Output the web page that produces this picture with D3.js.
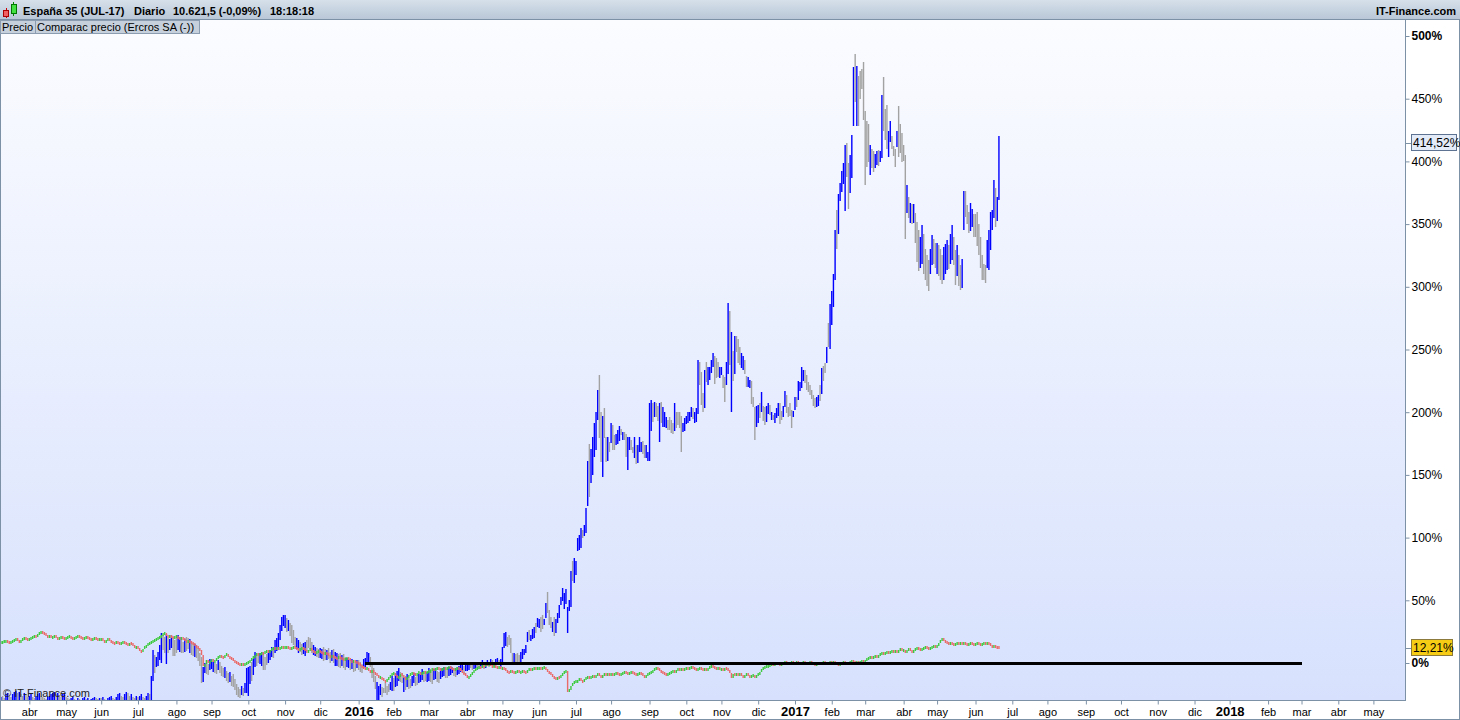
<!DOCTYPE html>
<html><head><meta charset="utf-8">
<script src="https://cdnjs.cloudflare.com/ajax/libs/d3/7.8.5/d3.min.js"></script>
<style>html,body{margin:0;padding:0;background:#fff;overflow:hidden}svg{display:block;font-family:"Liberation Sans",Arial,sans-serif}</style>
</head><body><svg id="c" width="1460" height="720"></svg>
<script>
// ---------- data ----------
const monthNames = ["ene","feb","mar","abr","may","jun","jul","ago","sep","oct","nov","dic"];
const yTicks = [0,50,100,150,200,250,300,350,400,450,500];
const headerParts = ["España 35 (JUL-17)", "Diario", "10.621,5 (-0,09%)", "18:18:18"];
const tabLabels = ["Precio", "Comparac precio (Ercros SA (-))"];
const lastValues = [414.52, 12.21]; // Ercros, España 35
const zeroLineDates = ["2016-01-07", "2018-03-01"];

// Ercros SA, daily bars "high/low" in % + b(up,blue)/g(down,grey); one string per month
const ercros2015 = [ // Mar .. Dec
"-27/-33b -26/-32g -28/-34g -25/-32b -24/-31b -26/-33g -27/-34g -25/-32b -23/-30b -22/-30b -24/-31g -23/-31b -25/-32g -26/-33g -24/-32b -25/-33g -27/-34g",
"-26/-33b -25/-32b -27/-34g -28/-34g -26/-33b -25/-32b -24/-31b -26/-33g -27/-33g -28/-34g -29/-35g -27/-34b -26/-33b -25/-32b -24/-31b -23/-30b -25/-32g -24/-31b -26/-33g -27/-34g -25/-32b -24/-31b",
"-27/-34g -28/-35g -29/-35g -28/-34b -27/-33b -29/-35g -30/-36g -28/-34b -29/-35g -30/-36g -28/-34b -27/-33b -29/-35g -28/-34b -30/-36g -29/-35b -28/-34b -27/-33b -28/-34g -29/-35g -28/-34b",
"-28/-34g -27/-33b -29/-35g -30/-36g -28/-34b -27/-33b -26/-32b -28/-34g -29/-35g -27/-33b -25/-31b -24/-31b -26/-32g -27/-33g -25/-32b -23/-30b -24/-31g -26/-32g -25/-31b -27/-33g -28/-34g -26/-32b",
"-27/-33g -26/-32b -25/-31b -27/-33g -28/-34g -26/-32b -24/-31b -25/-32g -10/-31b 10/-15b 6/-8g 5/-3b 9/-2b 14/2b 24/0b 22/10g 21/8g 23/-1b 20/8g 19/10b 22/12b 21/6g 18/5g",
"20/8g 22/10b 21/9b 18/8g 17/8g 19/9b 21/10g 20/11g 19/8b 17/7g 16/6g 15/5b 14/4g 12/2g 8/-2g 5/-16g -3/-15b 0/-8b 2/-9g -1/-10g 3/-6b",
"3/-5b 1/-7b 0/-8g -1/-9g 2/-6b 1/-8g -2/-10g -4/-11g -3/-12b -6/-14g -8/-16g -7/-15b -10/-18g -9/-19g -13/-22g -17/-26g -19/-27g -21/-28g -18/-25b -20/-26g -16/-24b -4/-24b",
"-3/-26b -2/-16b 1/-14g 3/-10b 9/-3b 8/-2g 7/0g 8/-1b 9/-2b 6/-6g 5/-5g 7/-2g 8/0b 10/2b 13/5b 12/4g 18/8b 20/10b 24/12b 30/18b 37/26b 38/29b",
"38/28b 36/25g 34/25b 32/22g 30/16g 26/14g 21/13g 20/11b 18/8b 17/9g 15/6g 16/7b 17/6b 18/9g 21/12g 20/11g 17/8g 14/6b 13/6b 12/5g 11/4g",
"12/4b 11/3b 13/2g 11/2g 10/2b 12/3g 9/0g 10/1b 11/0g 9/-2b 8/-2b 7/-3g 8/-4g 6/-3b 7/-4g 5/-5g 4/-3b 3/-4b 2/-6g 3/-5b 1/-7g 0/-6g 2/-4b"
];
const ercros2016 = [ // Jan .. Dec
"2/-6g 1/-7g -1/-8g 3/-4b 4/-3b 9/0b 8/-1b 5/-3g 0/-12g -4/-15g -10/-20g -15/-30b -18/-29b -17/-26b -19/-27g -20/-24g -16/-24g -18/-25g -17/-23g -15/-21b -10/-22b",
"-12/-22g -8/-19b -6/-18b -4/-14b -7/-15g -8/-16g -11/-23b -10/-21g -9/-19b -12/-21g -13/-20g -10/-18b -8/-16b -11/-18g -10/-17g -9/-16b -7/-15b -5/-14b -6/-15g -8/-14g -7/-15b",
"-4/-14b -5/-15g -6/-16g -5/-14b -4/-13b -6/-15g -7/-16g -5/-13b -4/-11b -3/-10b -4/-12g -5/-12g -3/-10b -2/-9b -3/-8b -4/-10g -5/-11g -3/-9b -2/-8b 0/-7b -1/-6b -2/-8g 0/-6b",
"0/-6b 1/-5b 0/-4g -1/-6g 0/-5b 1/-4b -1/-6g 0/-5g 1/-4b 2/-3b 0/-5g 1/-4b 2/-3b 1/-3g 3/-2b 2/-3g 1/-3g 3/-1b 4/0b 2/-2g 3/-3b",
"13/0b 24/12b 25/14b 21/13g 22/14g 20/8g 8/1g 8/0b 7/0g 8/1g 6/-1g 9/0b 11/3b 11/6b 14/8b 25/17b 26/18g 22/17b 27/19b 29/20b 32/24g 36/29b",
"35/28b 37/25g 38/27g 35/30b 48/36b 57/40g 42/30g 37/28g 33/25b 37/22g 35/24b 40/32b 46/36b 53/47b 60/50b 56/43b 59/47b 45/24b 50/41b 73/44b 81/65g 84/64b",
"81/70b 100/90b 102/90b 108/92b 106/100g 110/101b 124/104b 161/125b 175/133g 171/144b 180/150b 191/164b 200/170b 218/194b 230/180g 200/160g 197/148b 203/179g 180/160g 180/161b 176/168g",
"191/175b 190/170g 182/170g 183/174b 186/175b 189/177b 187/182g 184/178b 184/178g 183/165g 180/154b 180/170b 178/170g 172/167g 180/163b 174/159g 174/160b 180/168b 176/168b 177/167g 174/164g 174/164b 168/161b",
"207/161b 210/185b 207/192g 208/196b 207/196g 205/193g 207/176b 208/191g 204/188b 200/188b 196/187b 194/186g 196/186g 194/184g 191/182g 207/185b 200/187g 200/190g 200/187g 197/168g 191/184b 195/185b",
"197/191b 200/191b 200/193b 204/196b 203/194g 200/191b 203/192b 242/199b 240/222g 232/206g 215/200g 234/204b 240/224g 236/222b 236/226b 242/232b 247/236b 245/223g 243/227g 240/228g 236/227b",
"236/230b 230/220g 228/208g 240/222b 287/230b 281/238g 264/200b 249/225g 261/231b 261/248g 258/239g 252/238g 247/235b 245/234b 242/231g 229/220g 228/220b 226/220b 225/207g 212/204g 204/178g 205/188b",
"206/192b 207/195g 216/200b 205/193g 204/190g 205/192b 207/198b 206/198g 200/194b 198/194g 199/191b 203/195b 207/197b 207/190g 201/194g 205/196b 217/204b 214/200g 204/196g 207/197g 202/188g 201/196b"
];
const ercros2017 = [ // Jan .. Jun
"212/202b 212/204g 225/210b 224/217b 236/219b 234/225b 234/224g 230/218g 224/216g 222/214g 218/211g 214/205g 211/203g 212/204b 214/205b 222/209g 235/214b 237/225g 239/231g 252/239b 271/252g 286/250b",
"297/270b 310/284b 345/305b 361/330g 374/342b 383/369b 392/375b 399/382b 413/360b 415/388g 399/362g 405/375b 421/387b 475/428b 486/448g 476/428b 468/428g 472/450g 474/458g 479/433g",
"440/381g 432/395g 430/400g 413/389b 410/395g 408/391g 406/395b 408/397b 409/396g 408/399b 453/403b 467/424g 442/417g 445/410g 424/403b 432/415b 420/410g 412/404g 410/396g 424/411b 444/403g 430/407g 423/400g",
"413/400g 405/338g 381/359b 372/355g 367/351b 366/350g 366/351b 359/335g 352/320g 345/312g 340/315b 349/318b 342/310g 330/305g 325/300g 321/296g 330/310b 341/317b 338/318g 335/315g",
"335/310b 333/308g 330/305g 325/302g 332/306b 334/310b 337/313b 333/314g 342/318b 349/321b 340/318g 329/301g 333/308b 325/300g 317/297g 322/299b 376/345b 376/355g 365/350g 360/343g 367/345b 362/348b 358/340g",
"358/340g 360/333g 350/325g 340/315g 325/305g 318/305g 317/303g 337/315b 345/313b 360/330b 361/345b 385/355b 379/348g 372/353b 420/369b"
];

// España 35 comparison, daily close in %; one array per month
const ibex2015 = [ // Mar .. Dec
[16,17,17,18,17,16,17,18,18,19,18,17,18,19,20,19,18],
[19,20,21,22,21,23,24,25,24,23,22,21,22,20,21,22,20,19,20,21,20,19],
[20,21,21,20,19,20,21,22,21,20,19,20,21,20,19,18,19,20,19,18,19],
[19,18,17,18,19,18,17,16,15,17,16,15,16,17,16,15,14,16,15,14,12,13],
[12,10,9,11,13,14,15,16,17,18,18,19,20,21,22,23,24,22,21,22,21,20,21],
[21,20,19,20,19,18,17,18,17,16,15,14,13,12,10,6,-3,-1,2,0,1],
[3,1,2,4,5,6,5,4,6,7,5,4,3,2,1,0,-1,-2,-1,-2,-1,0],
[1,2,4,5,6,7,6,7,8,7,9,10,9,10,11,12,11,12,11,12,13,12],
[12,13,12,11,12,13,12,11,10,11,12,11,10,9,10,11,10,9,8,9,10],
[9,8,7,8,7,6,5,6,5,4,3,5,4,3,2,3,4,3,2,1,2,1,0]
];
const ibex2016 = [
[-1,-2,-3,-4,-5,-4,-6,-7,-6,-8,-9,-10,-12,-11,-13,-14,-15,-13,-12,-10,-9],
[-8,-10,-12,-11,-9,-10,-12,-13,-11,-10,-9,-8,-9,-10,-8,-7,-9,-8,-7,-8,-7],
[-7,-6,-5,-6,-5,-4,-5,-6,-5,-4,-5,-4,-3,-4,-5,-6,-5,-4,-5,-6,-8,-9,-10],
[-12,-11,-9,-8,-6,-5,-4,-3,-4,-2,-3,-1,-2,-1,-2,-3,-2,-3,-4,-3,-4],
[-4,-5,-6,-7,-8,-6,-7,-8,-7,-6,-8,-7,-6,-7,-8,-6,-5,-6,-5,-4,-5,-4],
[-4,-5,-4,-3,-5,-7,-8,-9,-11,-12,-13,-11,-12,-10,-8,-7,-6,-23,-21,-18,-16,-15],
[-15,-14,-13,-14,-15,-13,-12,-11,-12,-11,-10,-11,-10,-9,-10,-11,-10,-9,-10,-9,-10],
[-9,-10,-9,-8,-9,-10,-9,-8,-7,-8,-9,-8,-7,-8,-9,-10,-9,-8,-9,-10,-11,-10,-9],
[-8,-7,-6,-5,-4,-5,-6,-7,-8,-9,-10,-9,-8,-7,-6,-7,-6,-5,-6,-5,-6,-5],
[-4,-5,-4,-3,-4,-5,-6,-5,-4,-5,-6,-5,-6,-4,-3,-2,-3,-4,-5,-4,-5],
[-5,-6,-4,-5,-6,-8,-12,-9,-10,-9,-10,-9,-10,-11,-10,-9,-10,-11,-10,-10,-11,-10],
[-9,-7,-5,-4,-3,-3,-2,-2,-1,-2,-1,0,-1,-2,-1,0,1,0,-1,0,1,0]
];
const ibex2017 = [
[0,1,0,-1,0,1,0,-1,0,1,0,-1,-2,-1,0,-1,0,1,0,-1,0,1],
[0,1,0,-1,-2,-1,0,1,0,-1,0,1,2,1,0,1,0,1,2,1],
[2,3,4,5,4,5,6,5,6,7,8,7,8,9,8,9,10,9,10,9,10,11,10],
[10,9,10,11,10,9,10,11,12,11,10,11,12,13,12,11,12,13,14,13],
[14,16,18,19,18,17,16,15,16,15,14,15,16,15,16,15,16,15,14,15,16,15,14],
[15,16,15,14,15,16,15,16,15,14,13,14,13,12.5,12.21]
];

// ---------- calendar (trading-day axis) ----------
const days = [];
for (let t = Date.UTC(2015,2,9); t <= Date.UTC(2018,5,29); t += 864e5) {
  const d = new Date(t), wd = d.getUTCDay();
  if (wd > 0 && wd < 6) days.push(d);
}
const firstIdx = new Map();
days.forEach((d,i) => { const k = d.getUTCFullYear()*100 + d.getUTCMonth(); if (!firstIdx.has(k)) firstIdx.set(k, i); });
const dateIdx = s => { const [Y,M,D] = s.split("-").map(Number); const t = Date.UTC(Y,M-1,D); return days.findIndex(d => d.getTime() >= t); };

const ercros = [], ibex = [];
[[2015,2,ercros2015],[2016,0,ercros2016],[2017,0,ercros2017]].forEach(([Y,m0,arr]) => {
  arr.forEach((s,mi) => {
    const base = firstIdx.get(Y*100 + m0 + mi);
    s.trim().split(/\s+/).forEach((tok,k) => {
      const m = tok.match(/^(-?[\d.]+)\/(-?[\d.]+)([bg])$/);
      ercros.push({i: base + k, hi: +m[1], lo: +m[2], up: m[3] === "b"});
    });
  });
});
[[2015,2,ibex2015],[2016,0,ibex2016],[2017,0,ibex2017]].forEach(([Y,m0,arr]) => {
  arr.forEach((a,mi) => {
    const base = firstIdx.get(Y*100 + m0 + mi);
    a.forEach((v,k) => ibex.push({i: base + k, c: v}));
  });
});
ibex.forEach((d,j) => { d.o = j ? ibex[j-1].c : d.c; });

// ---------- scales ----------
const plotL = 0, plotR = 1405, plotT = 20, plotB = 700;
const x = d3.scaleLinear().domain([-0.54, 839.9]).range([plotL, plotR]);
const y = d3.scaleLinear().domain([0, 500]).range([663, 36]);

const svg = d3.select("#c");
const defs = svg.append("defs");
const bg = defs.append("linearGradient").attr("id","bg").attr("x1",0).attr("y1",0).attr("x2",0).attr("y2",1);
bg.append("stop").attr("offset","0").attr("stop-color","#fbfcff");
bg.append("stop").attr("offset","1").attr("stop-color","#d7e1fd");
const hg = defs.append("linearGradient").attr("id","hg").attr("x1",0).attr("y1",0).attr("x2",0).attr("y2",1);
hg.append("stop").attr("offset","0").attr("stop-color","#d6e0ea");
hg.append("stop").attr("offset","1").attr("stop-color","#b7c6d6");
defs.append("clipPath").attr("id","clip").append("rect").attr("x",plotL+1).attr("y",plotT).attr("width",plotR-plotL-1).attr("height",plotB-plotT);

svg.append("rect").attr("width",1460).attr("height",720).attr("fill","#fff");
svg.append("rect").attr("x",plotL).attr("y",plotT).attr("width",plotR-plotL).attr("height",plotB-plotT).attr("fill","url(#bg)");

const plot = svg.append("g").attr("clip-path","url(#clip)");

// Ercros bars
plot.append("g").selectAll("rect").data(ercros).join("rect")
  .attr("x", d => x(d.i) - 0.7)
  .attr("width", 1.4)
  .attr("y", d => Math.round(y(d.hi)))
  .attr("height", d => Math.max(2, Math.round(y(d.lo) - y(d.hi))))
  .attr("fill", d => d.up ? "#0000ff" : "#a2a2a2");

// España 35 candles
plot.append("g").selectAll("rect").data(ibex).join("rect")
  .attr("x", d => x(d.i) - 0.7)
  .attr("width", 1.4)
  .attr("y", d => { const t = y(Math.max(d.o,d.c)), b = y(Math.min(d.o,d.c)); return Math.round(Math.min(t, (t+b)/2 - 1.5)); })
  .attr("height", d => Math.max(3, Math.round(Math.abs(y(d.o) - y(d.c)))))
  .attr("fill", d => d.c >= d.o ? "#3fcb3f" : "#ea6a6a");

// zero line
plot.append("line").attr("shape-rendering","crispEdges")
  .attr("x1", x(dateIdx(zeroLineDates[0]))).attr("x2", x(dateIdx(zeroLineDates[1])))
  .attr("y1", y(0)).attr("y2", y(0)).attr("stroke","#000").attr("stroke-width",3);

// watermark
svg.append("text").attr("x",3).attr("y",697).attr("font-size",11).attr("fill","#222").text("© IT-Finance.com");

// frame lines
const frame = svg.append("g").attr("shape-rendering","crispEdges").attr("stroke","#7d91a6").attr("fill","none");
frame.append("line").attr("x1",plotR+0.5).attr("x2",plotR+0.5).attr("y1",plotT).attr("y2",plotB+0.5);
frame.append("line").attr("x1",0).attr("x2",plotR+0.5).attr("y1",plotB+0.5).attr("y2",plotB+0.5);
frame.append("rect").attr("x",0.5).attr("y",0.5).attr("width",1459).attr("height",719);

// right axis
const yAx = svg.append("g").attr("transform",`translate(${plotR+0.5},0)`)
  .call(d3.axisRight(y).tickValues(yTicks).tickSize(4).tickPadding(2).tickFormat(v => v + "%"));
yAx.select(".domain").remove();
yAx.selectAll("line").attr("stroke","#7d91a6");
yAx.selectAll("text").attr("font-size",12).attr("fill","#000").attr("font-family","Liberation Sans, Arial, sans-serif")
  .attr("font-weight", v => (v === 0 || v === 500) ? "bold" : "normal");

// bottom axis
const monthTicks = [];
for (let Y = 2015; Y <= 2018; Y++) for (let m = 0; m < 12; m++) {
  const k = Y*100 + m; if (k < 201503 || !firstIdx.has(k)) continue;
  const i = firstIdx.get(k); if (x(i) < 5 || x(i) > plotR - 5) continue;
  monthTicks.push({i, label: m === 0 ? String(Y) : monthNames[m], year: m === 0});
}
const xAx = svg.append("g").attr("transform",`translate(0,${plotB+0.5})`)
  .call(d3.axisBottom(x).tickValues(monthTicks.map(d => d.i)).tickSize(4).tickPadding(3)
    .tickFormat((v,j) => monthTicks[j].label));
xAx.select(".domain").remove();
xAx.selectAll("line").attr("stroke","#7d91a6");
xAx.selectAll("text").attr("fill","#000").attr("font-family","Liberation Sans, Arial, sans-serif")
  .attr("font-size", (v,j) => monthTicks[j].year ? 13 : 11)
  .attr("font-weight", (v,j) => monthTicks[j].year ? "bold" : "normal")
  .attr("dy", (v,j) => monthTicks[j].year ? "0.62em" : "0.75em");

// value tags
const fmt = d3.formatLocale({decimal:",", thousands:".", grouping:[3], currency:["","%"]}).format(".2f");
const tagStyles = [{fill:"#e3eaf8", stroke:"#5d7391", w:45}, {fill:"#f6cc14", stroke:"#8c7a3c", w:41}];
lastValues.forEach((v,j) => {
  const yy = Math.round(y(v));
  const g = svg.append("g").attr("shape-rendering","crispEdges");
  g.append("rect").attr("x",1411.5).attr("y",yy-8.5).attr("width",tagStyles[j].w).attr("height",16)
    .attr("fill",tagStyles[j].fill).attr("stroke",tagStyles[j].stroke);
  g.append("line").attr("x1",plotR+0.5).attr("x2",1411).attr("y1",yy+0.5).attr("y2",yy+0.5).attr("stroke","#7d91a6");
  svg.append("text").attr("x",1413).attr("y",yy+4).attr("font-size",12).attr("fill","#000").text(fmt(v) + "%");
});

// header
svg.append("rect").attr("x",0).attr("y",0).attr("width",1460).attr("height",20).attr("fill","url(#hg)");
svg.append("line").attr("x1",0).attr("x2",1460).attr("y1",19.5).attr("y2",19.5).attr("stroke","#7d91a6").attr("shape-rendering","crispEdges");
// icon
const ic = svg.append("g").attr("shape-rendering","crispEdges");
ic.append("line").attr("x1",6.5).attr("x2",6.5).attr("y1",8).attr("y2",18).attr("stroke","#c00");
ic.append("rect").attr("x",3.5).attr("y",10.5).attr("width",5).attr("height",6).attr("fill","#f06060").attr("stroke","#a00");
ic.append("line").attr("x1",13.5).attr("x2",13.5).attr("y1",2).attr("y2",16).attr("stroke","#080");
ic.append("rect").attr("x",11.5).attr("y",4.5).attr("width",5).attr("height",9).attr("fill","#40e040").attr("stroke","#070");
const hx = [23, 134, 173, 270];
headerParts.forEach((t,j) => svg.append("text").attr("x",hx[j]).attr("y",15).attr("font-size",11).attr("font-weight","bold").attr("fill","#000").text(t));
svg.append("text").attr("x",1456).attr("y",15).attr("text-anchor","end").attr("font-size",11).attr("font-weight","bold").attr("fill","#000").text("IT-Finance.com");

// tabs
const tabX = [0, 35], tabW = [35, 164];
tabLabels.forEach((t,j) => {
  svg.append("rect").attr("x",tabX[j]+0.5).attr("y",20.5).attr("width",tabW[j]).attr("height",13)
    .attr("fill","#c6d0dc").attr("stroke","#8b9bb0").attr("shape-rendering","crispEdges");
  svg.append("text").attr("x",tabX[j]+2).attr("y",31).attr("font-size",11).attr("fill","#000").text(t);
});
</script></body></html>
